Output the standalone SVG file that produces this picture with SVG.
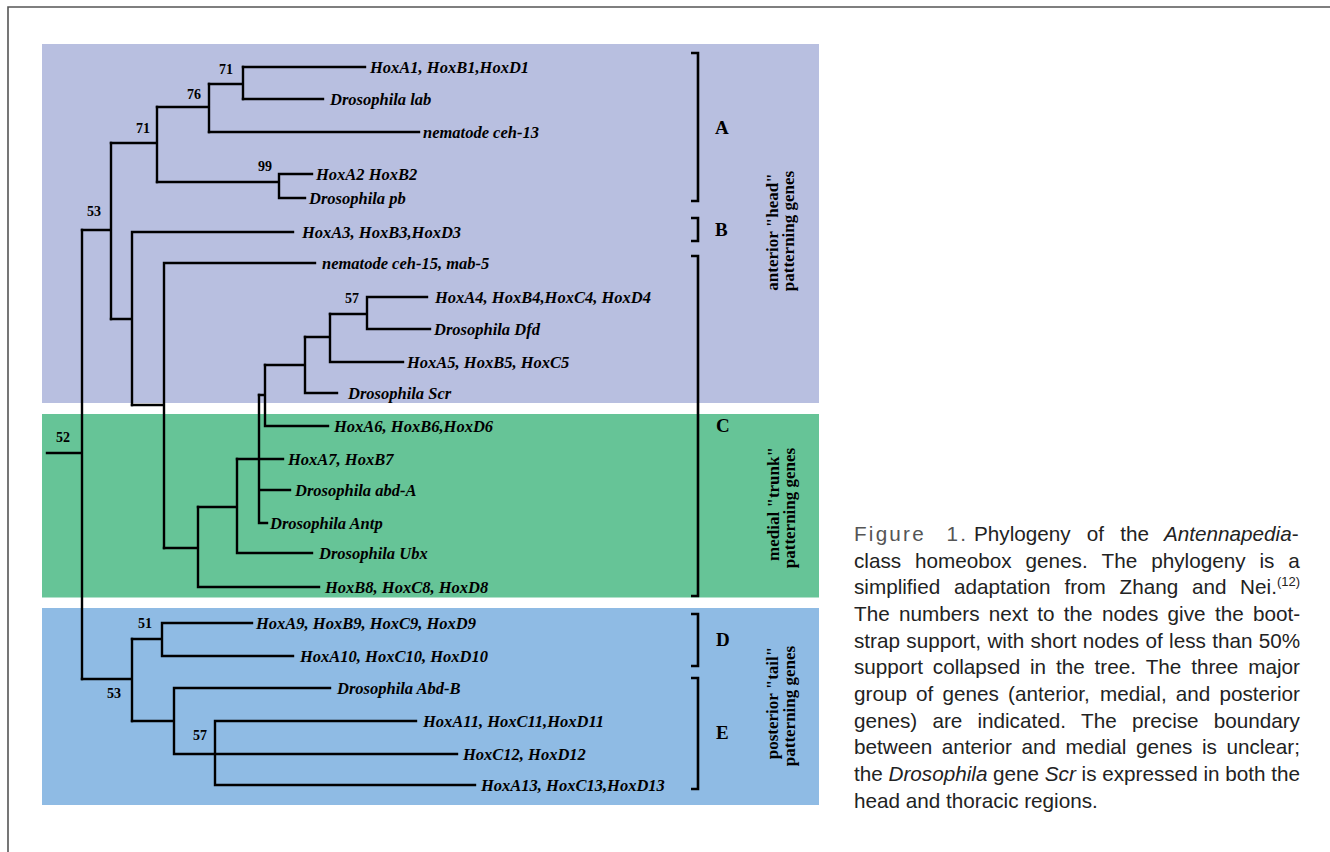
<svg xmlns="http://www.w3.org/2000/svg" width="1330" height="852" viewBox="0 0 1330 852">
<style>
.leaf{font-family:"Liberation Serif","Times New Roman",serif;font-style:italic;font-weight:bold;font-size:16.5px;fill:#000}
.bs{font-family:"Liberation Serif","Times New Roman",serif;font-weight:bold;font-size:14px;fill:#000;text-anchor:middle}
.grp{font-family:"Liberation Serif","Times New Roman",serif;font-weight:bold;font-size:19px;fill:#000}
.rot{font-family:"Liberation Serif","Times New Roman",serif;font-weight:bold;font-size:17px;fill:#000;text-anchor:middle}
.br{fill:none;stroke:#000;stroke-width:2.6}
.tree path{fill:none;stroke:#000;stroke-width:2.4;stroke-linecap:square}
.cap{font-family:"Liberation Sans",Arial,sans-serif;font-size:20.7px;fill:#222}
.fig{font-family:"Liberation Sans",Arial,sans-serif;font-size:20.7px;fill:#555;letter-spacing:2.2px}
</style>
<rect width="1330" height="852" fill="#fff"/>
<!-- frame -->
<path d="M8,852 V7 H1330" fill="none" stroke="#555" stroke-width="1.6"/>
<!-- background bands -->
<rect x="42" y="44" width="777" height="359" fill="#b8bfe0"/>
<rect x="42" y="414" width="777" height="183.5" fill="#66c497"/>
<rect x="42" y="608" width="777" height="197" fill="#8fbbe4"/>

<!-- connectors / tree -->
<g id="connectors" class="tree">
<path d="M47,453 H82 M82,230 V679"/>
<path d="M82,230 H111 M111,143 V319"/>
<path d="M111,143 H157 M157,107 V182"/>
<path d="M157,107 H209 M209,84 V132"/>
<path d="M209,84 H243 M243,67 V99"/>
<path d="M243,67 H365 M243,99 H323 M209,132 H419"/>
<path d="M157,182 H279 M279,174 V198 M279,174 H312 M279,198 H305"/>
<path d="M111,319 H132 M132,232 V405 M132,232 H293"/>
<path d="M132,405 H164 M164,263 V548 M164,263 H315"/>
<path d="M164,548 H198 M198,507 V587 M198,587 H319"/>
<path d="M198,507 H237 M237,459 V553 M237,553 H312"/>
<path d="M237,459 H283 M259,395 V523 M259,490 H290 M259,523 H267"/>
<path d="M259,395 H265 M265,365 V426 M265,426 H328"/>
<path d="M265,365 H305 M305,337 V393 M305,393 H337"/>
<path d="M305,337 H330 M330,314 V362 M330,362 H403"/>
<path d="M330,314 H367 M367,297 V329 M367,297 H427 M367,329 H430"/>
<path d="M82,679 H132 M132,639 V721"/>
<path d="M132,639 H162 M162,623 V656 M162,623 H252 M162,656 H293"/>
<path d="M132,721 H174 M174,688 V754 M174,688 H330 M174,754 H457"/>
<path d="M215,721 V785 M215,721 H416 M215,785 H475"/>
</g>

<!-- leaf nodes -->
<g id="leaf-hoxa1"><text class="leaf" x="370" y="72.5">HoxA1, HoxB1,HoxD1</text></g>
<g id="leaf-lab"><text class="leaf" x="330" y="104.5">Drosophila lab</text></g>
<g id="leaf-ceh13"><text class="leaf" x="423" y="137.5">nematode ceh-13</text></g>
<g id="leaf-hoxa2"><text class="leaf" x="316" y="179.5">HoxA2 HoxB2</text></g>
<g id="leaf-pb"><text class="leaf" x="309" y="203.5">Drosophila pb</text></g>
<g id="leaf-hoxa3"><text class="leaf" x="302" y="237.5">HoxA3, HoxB3,HoxD3</text></g>
<g id="leaf-ceh15"><text class="leaf" x="322" y="268.5">nematode ceh-15, mab-5</text></g>
<g id="leaf-hoxa4"><text class="leaf" x="435" y="302.5">HoxA4, HoxB4,HoxC4, HoxD4</text></g>
<g id="leaf-dfd"><text class="leaf" x="434" y="334.5">Drosophila Dfd</text></g>
<g id="leaf-hoxa5"><text class="leaf" x="407" y="367.5">HoxA5, HoxB5, HoxC5</text></g>
<g id="leaf-scr"><text class="leaf" x="348" y="398.5">Drosophila Scr</text></g>
<g id="leaf-hoxa6"><text class="leaf" x="334" y="431.5">HoxA6, HoxB6,HoxD6</text></g>
<g id="leaf-hoxa7"><text class="leaf" x="288" y="464.5">HoxA7, HoxB7</text></g>
<g id="leaf-abda"><text class="leaf" x="295" y="495.5">Drosophila abd-A</text></g>
<g id="leaf-antp"><text class="leaf" x="270" y="528.5">Drosophila Antp</text></g>
<g id="leaf-ubx"><text class="leaf" x="319" y="558.5">Drosophila Ubx</text></g>
<g id="leaf-hoxb8"><text class="leaf" x="325" y="592.5">HoxB8, HoxC8, HoxD8</text></g>
<g id="leaf-hoxa9"><text class="leaf" x="256" y="628.5">HoxA9, HoxB9, HoxC9, HoxD9</text></g>
<g id="leaf-hoxa10"><text class="leaf" x="300" y="661.5">HoxA10, HoxC10, HoxD10</text></g>
<g id="leaf-abdb"><text class="leaf" x="337" y="693.5">Drosophila Abd-B</text></g>
<g id="leaf-hoxa11"><text class="leaf" x="423" y="726.5">HoxA11, HoxC11,HoxD11</text></g>
<g id="leaf-hoxc12"><text class="leaf" x="463" y="759.5">HoxC12, HoxD12</text></g>
<g id="leaf-hoxa13"><text class="leaf" x="481" y="790.5">HoxA13, HoxC13,HoxD13</text></g>

<!-- bootstrap values -->
<g id="bootstrap">
<text class="bs" x="226" y="74">71</text>
<text class="bs" x="194" y="99">76</text>
<text class="bs" x="143" y="133">71</text>
<text class="bs" x="265" y="171">99</text>
<text class="bs" x="94" y="216">53</text>
<text class="bs" x="352" y="303">57</text>
<text class="bs" x="63" y="442">52</text>
<text class="bs" x="145" y="628">51</text>
<text class="bs" x="114" y="698">53</text>
<text class="bs" x="200" y="740">57</text>
</g>

<!-- group brackets -->
<g id="group-A"><path class="br" d="M691,53 H698 V201 H691"/><text class="grp" x="715" y="134">A</text></g>
<g id="group-B"><path class="br" d="M691,218 H698 V241 H691"/><text class="grp" x="715" y="236">B</text></g>
<g id="group-C"><path class="br" d="M691,256 H698 V596 H691"/><text class="grp" x="716" y="432">C</text></g>
<g id="group-D"><path class="br" d="M691,614 H698 V666 H691"/><text class="grp" x="716" y="646">D</text></g>
<g id="group-E"><path class="br" d="M691,678 H698 V789 H691"/><text class="grp" x="716" y="739">E</text></g>

<!-- region labels -->
<g id="label-anterior">
<text class="rot" transform="translate(778,232) rotate(-90)">anterior "head"</text>
<text class="rot" transform="translate(794,231) rotate(-90)">patterning genes</text>
</g>
<g id="label-medial">
<text class="rot" transform="translate(779,504) rotate(-90)">medial "trunk"</text>
<text class="rot" transform="translate(795,508) rotate(-90)">patterning genes</text>
</g>
<g id="label-posterior">
<text class="rot" transform="translate(778,703) rotate(-90)">posterior "tail"</text>
<text class="rot" transform="translate(795,706) rotate(-90)">patterning genes</text>
</g>

<!-- caption -->
<g id="caption">
<text class="fig" x="854" y="541">Figure<tspan x="946.5">1.</tspan></text>
<text class="cap" y="541"><tspan x="974">Phylogeny</tspan><tspan x="1086.8">of</tspan><tspan x="1120.3">the</tspan><tspan x="1164" font-style="italic">Antennapedia</tspan>-</text>
<text class="cap" y="567.7"><tspan x="854">class</tspan><tspan x="915.1">homeobox</tspan><tspan x="1025.6">genes.</tspan><tspan x="1101.6">The</tspan><tspan x="1151.2">phylogeny</tspan><tspan x="1259.5">is</tspan><tspan x="1288.3">a</tspan></text>
<text class="cap" y="594.3"><tspan x="854">simplified</tspan><tspan x="954">adaptation</tspan><tspan x="1064.4">from</tspan><tspan x="1119.5">Zhang</tspan><tspan x="1191.9">and</tspan><tspan x="1240.1">Nei.</tspan><tspan x="1277" dy="-8" font-size="13px">(12)</tspan></text>
<text class="cap" y="621"><tspan x="854">The</tspan><tspan x="899">numbers</tspan><tspan x="988.8">next</tspan><tspan x="1037.2">to</tspan><tspan x="1063.8">the</tspan><tspan x="1101.9">nodes</tspan><tspan x="1167.6">give</tspan><tspan x="1214.9">the</tspan><tspan x="1253">boot-</tspan></text>
<text class="cap" y="647.7"><tspan x="854">strap</tspan><tspan x="906.3">support,</tspan><tspan x="987.4">with</tspan><tspan x="1030.5">short</tspan><tspan x="1082.8">nodes</tspan><tspan x="1145.5">of</tspan><tspan x="1169.1">less</tspan><tspan x="1212.2">than</tspan><tspan x="1258.8">50%</tspan></text>
<text class="cap" y="674.3"><tspan x="854">support</tspan><tspan x="932.8">collapsed</tspan><tspan x="1030">in</tspan><tspan x="1055.9">the</tspan><tspan x="1094.5">tree.</tspan><tspan x="1145.7">The</tspan><tspan x="1191.2">three</tspan><tspan x="1248.2">major</tspan></text>
<text class="cap" y="701"><tspan x="854">group</tspan><tspan x="916">of</tspan><tspan x="942.5">genes</tspan><tspan x="1008">(anterior,</tspan><tspan x="1100">medial,</tspan><tspan x="1175.8">and</tspan><tspan x="1219.5">posterior</tspan></text>
<text class="cap" y="727.7"><tspan x="854">genes)</tspan><tspan x="932.4">are</tspan><tspan x="977.4">indicated.</tspan><tspan x="1081.1">The</tspan><tspan x="1131.9">precise</tspan><tspan x="1213.7">boundary</tspan></text>
<text class="cap" y="754.3"><tspan x="854">between</tspan><tspan x="941.7">anterior</tspan><tspan x="1021.4">and</tspan><tspan x="1065.4">medial</tspan><tspan x="1136">genes</tspan><tspan x="1201.9">is</tspan><tspan x="1226.4">unclear;</tspan></text>
<text class="cap" y="781"><tspan x="854">the</tspan><tspan x="888.5" font-style="italic">Drosophila</tspan><tspan x="993.1">gene</tspan><tspan x="1044.8" font-style="italic">Scr</tspan><tspan x="1081.6">is</tspan><tspan x="1102.2">expressed</tspan><tspan x="1203.4">in</tspan><tspan x="1225.2">both</tspan><tspan x="1271.2">the</tspan></text>
<text class="cap" x="854" y="807.7">head and thoracic regions.</text>
</g>
</svg>
